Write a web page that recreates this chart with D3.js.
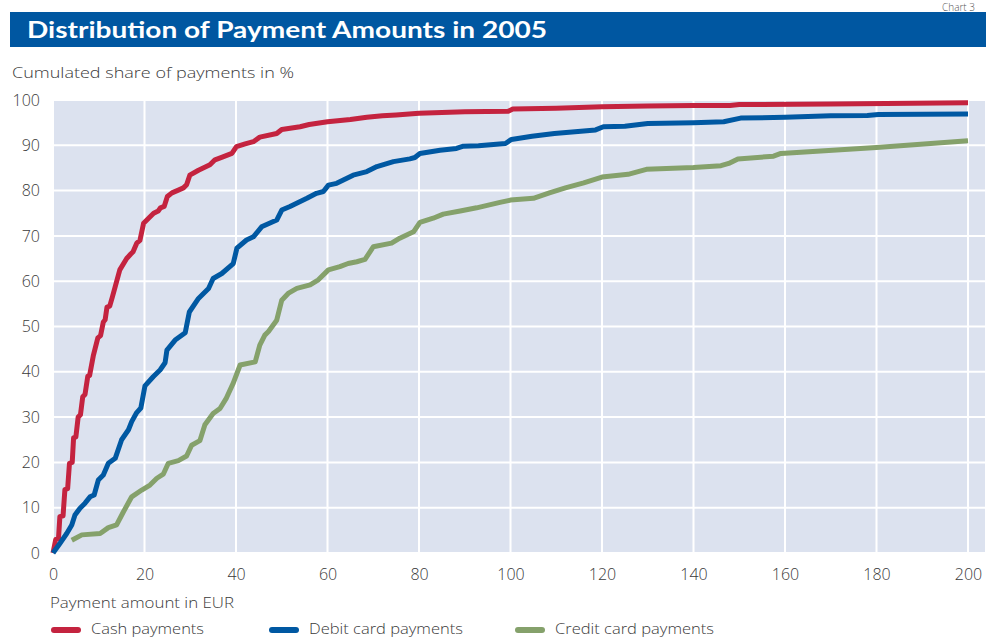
<!DOCTYPE html>
<html><head><meta charset="utf-8">
<script src="https://cdn.jsdelivr.net/npm/d3@7"></script>
<style>
html,body{margin:0;padding:0;background:#fff;}
svg{display:block;}
text{font-family:"Open Sans",Lato,sans-serif;font-weight:300;}
</style></head>
<body>
<svg id="chart" width="986" height="639"></svg>
<script>
const title = "Distribution of Payment Amounts in 2005";
const chartNo = "Chart 3";
const yAxisTitle = "Cumulated share of payments in %";
const xAxisTitle = "Payment amount in EUR";
const seriesNames = ["Cash payments", "Debit card payments", "Credit card payments"];
const seriesColors = ["#c4233f", "#0058a2", "#85a16b"];
const xTicks = [0,20,40,60,80,100,120,140,160,180,200];
const yTicks = [0,10,20,30,40,50,60,70,80,90,100];

const cash = [[0,0],[0.6,3],[1.2,3.2],[1.5,8],[2.2,8.2],[2.6,14],[3.2,14.2],[3.6,19.8],[4.2,20],[4.5,25.4],[5,25.6],[5.5,30],[6,30.5],[6.5,34.5],[7,35],[7.6,39],[8,39.2],[8.8,43.5],[9.8,47.5],[10.4,48],[11,51],[11.4,51.5],[11.8,54.3],[12.4,54.5],[13,56.6],[13.6,58.8],[14.6,62.5],[16.1,65],[17,66],[17.5,66.5],[18.3,68.4],[19,69],[19.8,72.8],[21,74],[22,75],[23,75.5],[23.5,76.2],[24.3,76.5],[25,78.7],[26,79.5],[27.4,80.1],[28.5,80.6],[29.2,81.3],[29.9,83.4],[31.8,84.5],[34.3,85.7],[35.4,86.8],[37,87.4],[39.1,88.2],[40.1,89.7],[42,90.3],[43.8,90.8],[45.2,91.8],[48.9,92.6],[50,93.5],[54,94.1],[56,94.6],[60,95.2],[65,95.7],[68.6,96.2],[72,96.5],[75,96.7],[80,97.1],[90,97.4],[99.5,97.5],[100.5,98],[110,98.2],[120,98.5],[130,98.7],[140,98.8],[148,98.8],[150,99],[170,99.1],[200,99.4]];
const debit = [[0,0],[1.5,2.1],[3,4.3],[4.1,6.2],[4.8,8.4],[5.9,9.9],[7,11],[8.1,12.4],[9,12.8],[9.9,16.1],[11,17.2],[12.1,19.8],[13.6,20.9],[15,25],[16.5,27.2],[17.2,29],[18.3,31],[19.2,32],[20.1,36.9],[21.9,38.9],[23.4,40.4],[24.5,42],[24.9,44.8],[26.7,47],[28.9,48.6],[29.8,53.2],[31.8,56.2],[34,58.4],[35,60.6],[36.9,61.7],[39.4,63.9],[40.2,67.3],[42.3,69.1],[43.8,69.8],[45.6,72],[48.9,73.5],[50,75.7],[51.8,76.5],[55.5,78.3],[57.6,79.4],[59.1,79.8],[60.2,81.2],[62,81.6],[65.6,83.4],[68.6,84.2],[70.8,85.3],[74.4,86.4],[78,87],[79.1,87.3],[80.2,88.2],[84.6,88.9],[88.2,89.3],[89.7,89.8],[93,89.9],[98.9,90.4],[100.2,91.3],[104.7,92],[109.6,92.6],[118.6,93.4],[120.3,94.1],[125,94.2],[130,94.8],[140,95],[146.6,95.2],[150.3,96],[160,96.2],[170,96.5],[178,96.6],[180.4,96.8],[200,96.9]];
const credit = [[4.1,2.8],[6.3,4],[10.3,4.3],[12.1,5.6],[13.9,6.2],[15.4,9.1],[17.2,12.4],[19.4,13.9],[21.2,15],[22.7,16.5],[24.1,17.4],[25.2,19.8],[27.4,20.4],[29.2,21.4],[30.3,23.8],[32.1,24.8],[33.2,28.3],[35,30.8],[36.5,31.9],[37.9,34.2],[39.4,37.5],[40.9,41.5],[44.2,42.2],[45.2,45.9],[46.3,48.1],[47.1,48.9],[48.9,51.4],[50,55.8],[51.4,57.3],[53.3,58.4],[56.2,59.2],[58,60.3],[60.2,62.5],[62.7,63.2],[64.5,63.9],[66.4,64.3],[68.2,64.8],[70,67.6],[74,68.4],[75.8,69.5],[78.8,70.9],[80.2,73],[83.1,73.9],[85.3,74.8],[89,75.5],[92.6,76.2],[97.7,77.4],[100,77.9],[105,78.3],[108.5,79.5],[112,80.6],[116,81.7],[120,83],[125.7,83.6],[129.7,84.7],[140,85.1],[146,85.5],[147.7,86],[149.7,87],[157.5,87.6],[159.1,88.2],[180,89.5],[200,91]];
const seriesData = [cash, debit, credit];

const svg = d3.select("#chart");
const textColor = "#3a3a3a";

// Title bar
svg.append("rect").attr("x",10).attr("y",12).attr("width",976).attr("height",35).attr("fill","#0057a1");
svg.append("text").attr("x",27).attr("y",38).attr("fill","#fff").attr("font-size",23)
  .style("font-family","Lato,sans-serif").style("font-weight","bold")
  .attr("textLength",520).attr("lengthAdjust","spacingAndGlyphs").text(title);
svg.append("text").attr("x",975).attr("y",11).attr("text-anchor","end").attr("fill","#555").attr("font-size",10).text(chartNo);

// Scales
const x = d3.scaleLinear().domain([0,200]).range([53,968]);
const y = d3.scaleLinear().domain([0,100]).range([553,100]);

// Plot background
svg.append("rect").attr("x",53).attr("y",100).attr("width",932).attr("height",453).attr("fill","#dce2ef");

// Grid
const grid = svg.append("g");
grid.selectAll("line.h").data(yTicks).join("line").attr("class","h")
  .attr("x1",53).attr("x2",985).attr("y1",d=>y(d)).attr("y2",d=>y(d))
  .attr("stroke","#fff").attr("stroke-width",2);
grid.selectAll("line.v").data(xTicks).join("line").attr("class","v")
  .attr("x1",d=>x(d)).attr("x2",d=>x(d)).attr("y1",100).attr("y2",553)
  .attr("stroke","#fff").attr("stroke-width",2);

// Axes (labels only)
const yAxis = svg.append("g").attr("transform","translate(53,0)")
  .call(d3.axisLeft(y).tickValues(yTicks).tickSize(0).tickPadding(13));
yAxis.select(".domain").remove();
yAxis.selectAll("text").attr("font-size",16).attr("fill",textColor).attr("font-family",null);
const xAxis = svg.append("g").attr("transform","translate(0,553)")
  .call(d3.axisBottom(x).tickValues(xTicks).tickSize(0).tickPadding(16));
xAxis.select(".domain").remove();
xAxis.selectAll("text").attr("font-size",16).attr("fill",textColor).attr("font-family",null);

svg.append("text").attr("x",12).attr("y",78).attr("font-size",15).attr("fill",textColor)
  .attr("textLength",282).attr("lengthAdjust","spacingAndGlyphs").text(yAxisTitle);
svg.append("text").attr("x",50).attr("y",608).attr("font-size",15).attr("fill",textColor)
  .attr("textLength",184).attr("lengthAdjust","spacingAndGlyphs").text(xAxisTitle);

// Lines
const line = d3.line().x(d=>x(d[0])).y(d=>y(d[1]));
svg.append("g").selectAll("path").data(seriesData).join("path")
  .attr("d",line).attr("fill","none")
  .attr("stroke",(d,i)=>seriesColors[i]).attr("stroke-width",5)
  .attr("stroke-linejoin","round").attr("stroke-linecap","butt");

// Legend
const legendX = [54, 272, 518];
const legendW = [113, 154, 159];
const lg = svg.append("g");
seriesNames.forEach((n,i)=>{
  lg.append("line").attr("x1",legendX[i]).attr("x2",legendX[i]+24).attr("y1",630).attr("y2",630)
    .attr("stroke",seriesColors[i]).attr("stroke-width",6).attr("stroke-linecap","round");
  lg.append("text").attr("x",legendX[i]+37).attr("y",634).attr("font-size",15).attr("fill",textColor)
    .attr("textLength",legendW[i]).attr("lengthAdjust","spacingAndGlyphs").text(n);
});
</script>
</body></html>
